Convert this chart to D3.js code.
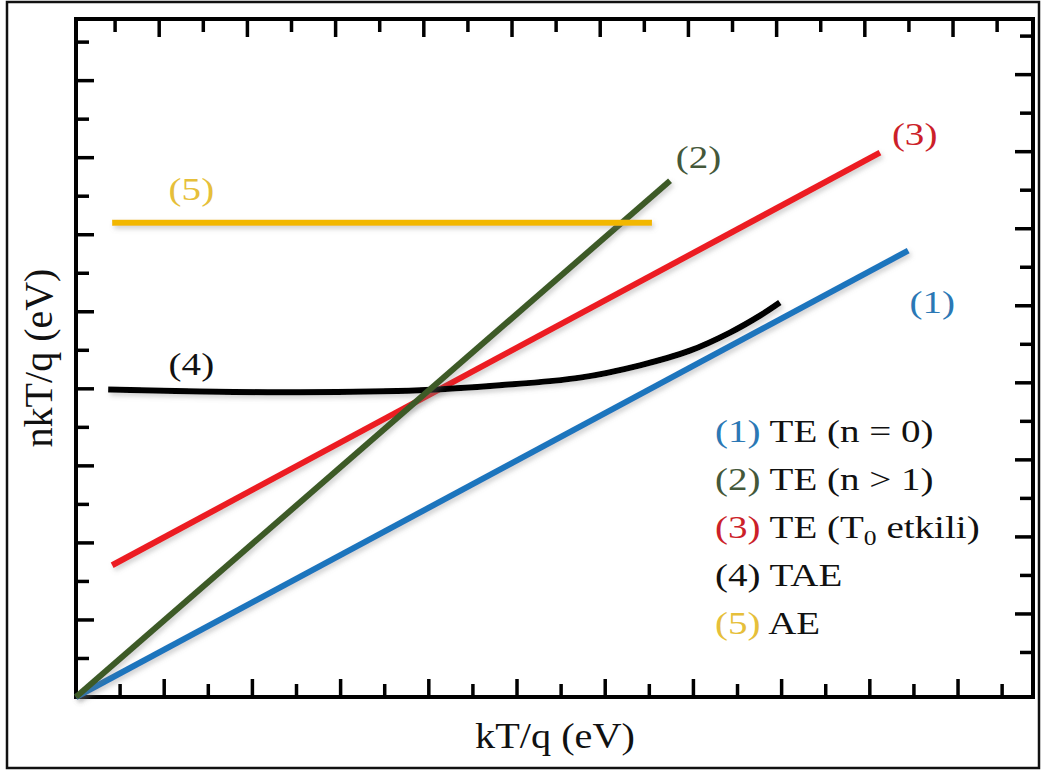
<!DOCTYPE html>
<html lang="en">
<head>
    <meta charset="UTF-8">
    <script src="https://d3js.org/d3.v7.min.js"></script>
    <title>nkT/q vs kT/q</title>
    <style>
        body { margin: 0; background: #fff; }
        text {
            font-family: 'Liberation Serif', 'Times New Roman', serif;
        }
    </style>
</head>
<body>
<script>
    const width = 1041, height = 771;

    // curve data, in axis units
    const teN0    = [[0, 0], [18.87, 11.59]];
    const teN1    = [[0, 0], [13.47, 13.40]];
    const teT0    = [[0.82, 3.42], [18.23, 14.13]];
    const ae      = [[0.82, 12.31], [13.06, 12.31]];
    const tae     = [[0.73, 7.98], [2.81, 7.93], [5.08, 7.91], [7.80, 7.96], [9.61, 8.09],
                     [11.43, 8.29], [12.79, 8.61], [13.92, 8.99], [14.83, 9.46],
                     [15.51, 9.90], [15.96, 10.24]];

    const xTicks = d3.range(1, 22);
    const yTicks = d3.range(1, 18);

    const curveNames = ['(1)', '(2)', '(3)', '(4)', '(5)'];
    const legendText = ['TE (n = 0)', 'TE (n > 1)', 'TE (T', 'TAE', 'AE'];
    const colors = ['#1f74bd', '#3d5a27', '#ec1c24', '#000000', '#f2b705'];
    const labelColors = ['#2b78b5', '#44583a', '#cc1f2a', '#111111', '#e6bf3a'];

    const svg = d3.select('body').append('svg')
            .attr('width', width).attr('height', height);

    // soft halo under the lines; user-space region so the flat line keeps it
    const defs = svg.append('defs');
    defs.append('filter').attr('id', 'soft')
            .attr('filterUnits', 'userSpaceOnUse')
            .attr('x', 0).attr('y', 0).attr('width', width).attr('height', height)
        .append('feDropShadow')
            .attr('dx', 2).attr('dy', 3).attr('stdDeviation', 2.5)
            .attr('flood-color', '#777').attr('flood-opacity', 0.35);

    // outer frame
    svg.append('rect')
            .attr('x', 7).attr('y', 2).attr('width', 1032).attr('height', 766)
            .attr('fill', 'none').attr('stroke', '#111').attr('stroke-width', 2.5);

    const x = d3.scaleLinear().domain([0, 21.7]).range([76, 1033]);
    const y = d3.scaleLinear().domain([0, 17.6]).range([697, 19]);

    const tickLen = d => (d % 2 === 0 ? 18 : 13);

    // ticks, all pointing inward
    const ticks = svg.append('g').attr('stroke', '#000').attr('stroke-width', 3.5);
    ticks.selectAll('.tb').data(xTicks).join('line')
            .attr('x1', d => x(d)).attr('x2', d => x(d))
            .attr('y1', y(0)).attr('y2', d => y(0) - tickLen(d));
    ticks.selectAll('.tt').data(xTicks).join('line')
            .attr('x1', d => x(d) - 5).attr('x2', d => x(d) - 5)
            .attr('y1', y(17.6)).attr('y2', d => y(17.6) + tickLen(d));
    ticks.selectAll('.tl').data(yTicks).join('line')
            .attr('y1', d => y(d)).attr('y2', d => y(d))
            .attr('x1', x(0)).attr('x2', d => x(0) + tickLen(d));
    ticks.selectAll('.tr').data(yTicks).join('line')
            .attr('y1', d => y(d) - 6).attr('y2', d => y(d) - 6)
            .attr('x1', x(21.7)).attr('x2', d => x(21.7) - tickLen(d));

    // plot frame
    svg.append('rect')
            .attr('x', x(0)).attr('y', y(17.6))
            .attr('width', x(21.7) - x(0)).attr('height', y(0) - y(17.6))
            .attr('fill', 'none').attr('stroke', '#000').attr('stroke-width', 4);

    const line = d3.line().x(d => x(d[0])).y(d => y(d[1]));
    const smooth = d3.line().x(d => x(d[0])).y(d => y(d[1])).curve(d3.curveCatmullRom);

    const series = [
        {data: teT0, c: colors[2], gen: line},
        {data: teN0, c: colors[0], gen: line},
        {data: tae,  c: colors[3], gen: smooth},
        {data: teN1, c: colors[1], gen: line},
        {data: ae,   c: colors[4], gen: line}
    ];
    svg.append('g').selectAll('path').data(series).join('path')
            .attr('d', d => d.gen(d.data))
            .attr('fill', 'none')
            .attr('stroke', d => d.c)
            .attr('stroke-width', 6)
            .attr('filter', 'url(#soft)');

    // curve tags next to the lines
    const tagPos = [[18.9, 313], [13.6, 168], [18.5, 145], [2.1, 375], [2.1, 200]];
    svg.append('g').selectAll('text').data(curveNames).join('text')
            .attr('transform', (d, i) => `translate(${x(tagPos[i][0])},${tagPos[i][1]}) scale(1.22,1)`)
            .attr('font-size', 32)
            .attr('fill', (d, i) => labelColors[i])
            .text(d => d);

    // legend
    const legend = svg.append('g');
    const rows = legend.selectAll('text').data(curveNames).join('text')
            .attr('transform', (d, i) => `translate(715,${442 + i * 48}) scale(1.22,1)`)
            .attr('font-size', 32);
    rows.append('tspan').attr('fill', (d, i) => labelColors[i]).text(d => d);
    rows.append('tspan').attr('fill', '#111').text((d, i) => ' ' + legendText[i]);
    rows.filter((d, i) => i === 2).each(function() {
        const t = d3.select(this);
        t.append('tspan').attr('font-size', 21).attr('dy', 7).attr('fill', '#111').text('0');
        t.append('tspan').attr('dy', -7).attr('fill', '#111').text(' etkili)');
    });

    // axis titles
    svg.append('text')
            .attr('transform', 'translate(555,748) scale(1.15,1)')
            .attr('text-anchor', 'middle')
            .attr('font-size', 35)
            .attr('fill', '#111')
            .text('kT/q (eV)');
    svg.append('text')
            .attr('transform', 'translate(52,358) rotate(-90)')
            .attr('text-anchor', 'middle')
            .attr('font-size', 40)
            .attr('fill', '#111')
            .text('nkT/q (eV)');
</script>
</body>
</html>
